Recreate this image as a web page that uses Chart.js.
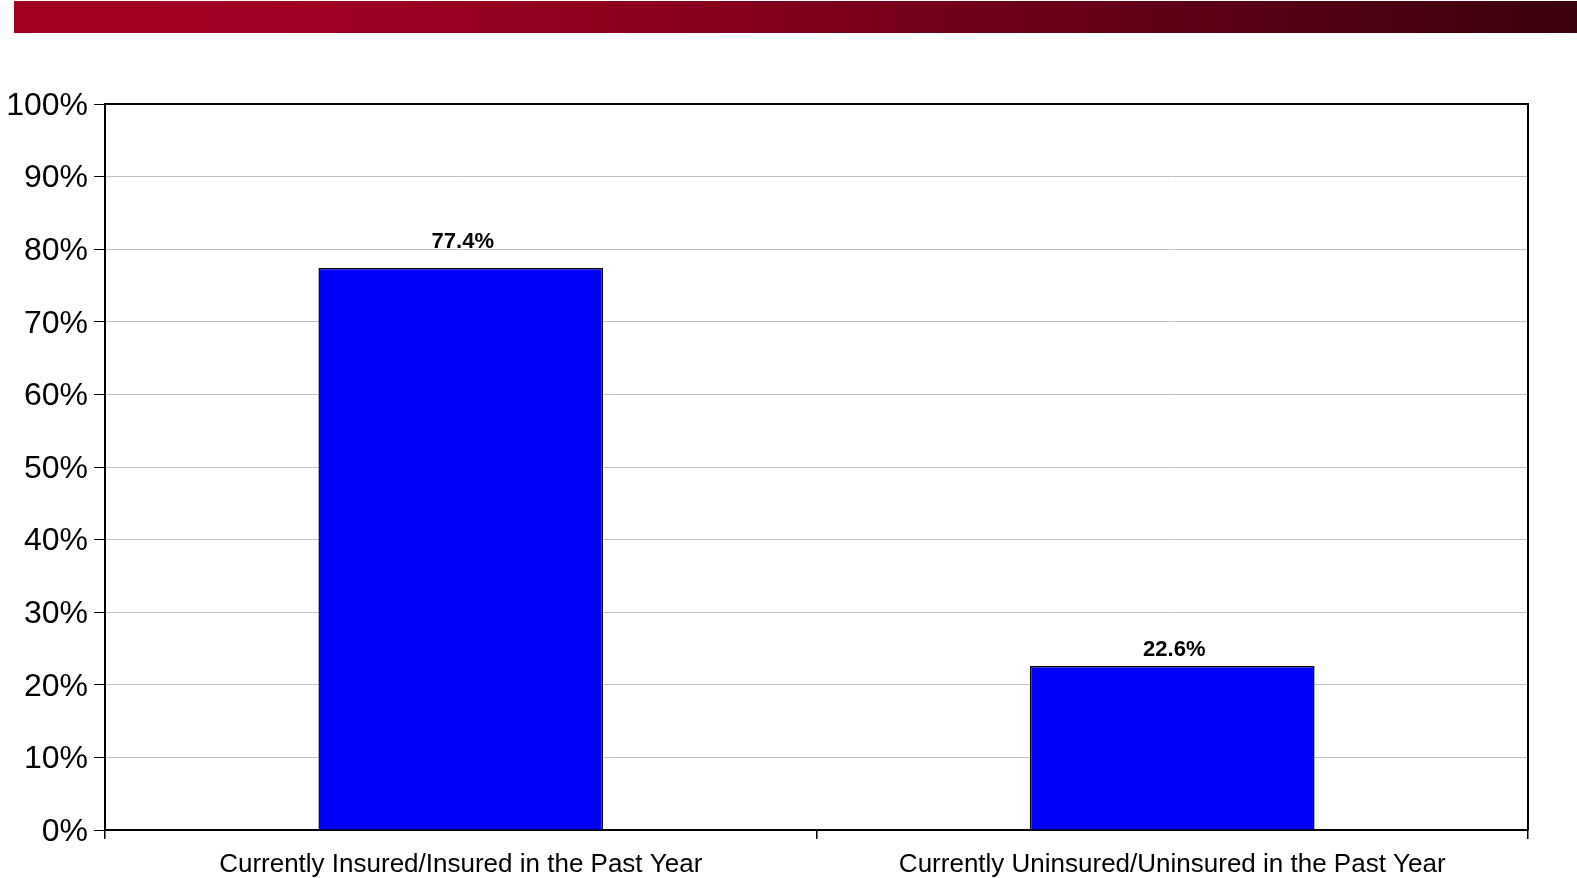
<!DOCTYPE html>
<html>
<head>
<meta charset="utf-8">
<script src="https://cdn.jsdelivr.net/npm/chart.js@4/dist/chart.umd.min.js"></script>
<style>
  html, body { margin: 0; padding: 0; background: #fff; width: 1577px; height: 878px; overflow: hidden; }
  #band { position: absolute; left: 14px; top: 1px; width: 1563px; height: 32px;
    background: linear-gradient(to right, #a20022 0%, #a00021 17%, #94001f 33%, #7a001a 55%, #5a0014 78%, #3a000c 100%); }
  #wrap { position: absolute; left: 0; top: 0; width: 1577px; height: 878px; }
</style>
</head>
<body>
<div id="band"></div>
<div id="wrap"><canvas id="c" width="1577" height="878"></canvas></div>
<script>
const categories = ["Currently Insured/Insured in the Past Year", "Currently Uninsured/Uninsured in the Past Year"];
const values = [77.4, 22.6];
const yTicks = [0, 10, 20, 30, 40, 50, 60, 70, 80, 90, 100];

const valueLabels = {
  id: 'valueLabels',
  afterDatasetsDraw(chart) {
    const ctx = chart.ctx;
    const meta = chart.getDatasetMeta(0);
    const gaps = [20, 10];
    ctx.save();
    ctx.font = 'bold 22px "Liberation Sans", Arial, sans-serif';
    ctx.fillStyle = '#000';
    ctx.textAlign = 'center';
    ctx.textBaseline = 'alphabetic';
    meta.data.forEach((bar, i) => {
      ctx.fillText(values[i].toFixed(1) + '%', bar.x + 2, bar.y - gaps[i]);
    });
    ctx.restore();
  }
};
const frame = {
  id: 'frame',
  afterDraw(chart) {
    const a = chart.chartArea, ctx = chart.ctx;
    ctx.save();
    ctx.strokeStyle = '#000';
    ctx.lineWidth = 2;
    ctx.beginPath();
    ctx.moveTo(a.left, a.top); ctx.lineTo(a.right, a.top); ctx.lineTo(a.right, a.bottom);
    ctx.stroke();
    ctx.restore();
  }
};

new Chart(document.getElementById('c'), {
  type: 'bar',
  data: {
    labels: categories,
    datasets: [{
      data: values,
      backgroundColor: '#0000ff',
      borderColor: '#000',
      borderWidth: 1.5,
      barPercentage: 0.4,
      categoryPercentage: 1.0
    }]
  },
  options: {
    responsive: false,
    animation: false,
    layout: { padding: { top: 104, right: 49, left: 0, bottom: 0 } },
    plugins: { legend: { display: false }, tooltip: { enabled: false } },
    scales: {
      x: {
        grid: { offset: true, drawOnChartArea: false, tickLength: 9, color: '#000', lineWidth: 1.5 },
        border: { color: '#000', width: 2 },
        ticks: { color: '#000', font: { family: '"Liberation Sans", Arial, sans-serif', size: 26 }, padding: 10, maxRotation: 0, autoSkip: false },
        afterFit(s) { s.height = 48; }
      },
      y: {
        min: 0, max: 100,
        afterBuildTicks(s) { s.ticks = yTicks.map(v => ({ value: v })); },
        grid: { color: '#c0c0c0', lineWidth: 1, tickColor: '#000', tickLength: 11 },
        border: { color: '#000', width: 2 },
        ticks: { color: '#000', font: { family: '"Liberation Sans", Arial, sans-serif', size: 32 }, padding: 6,
          labelOffset: 2, callback: v => v + '%' },
        afterFit(s) { s.width = 105; }
      }
    }
  },
  plugins: [valueLabels, frame]
});
</script>
</body>
</html>
